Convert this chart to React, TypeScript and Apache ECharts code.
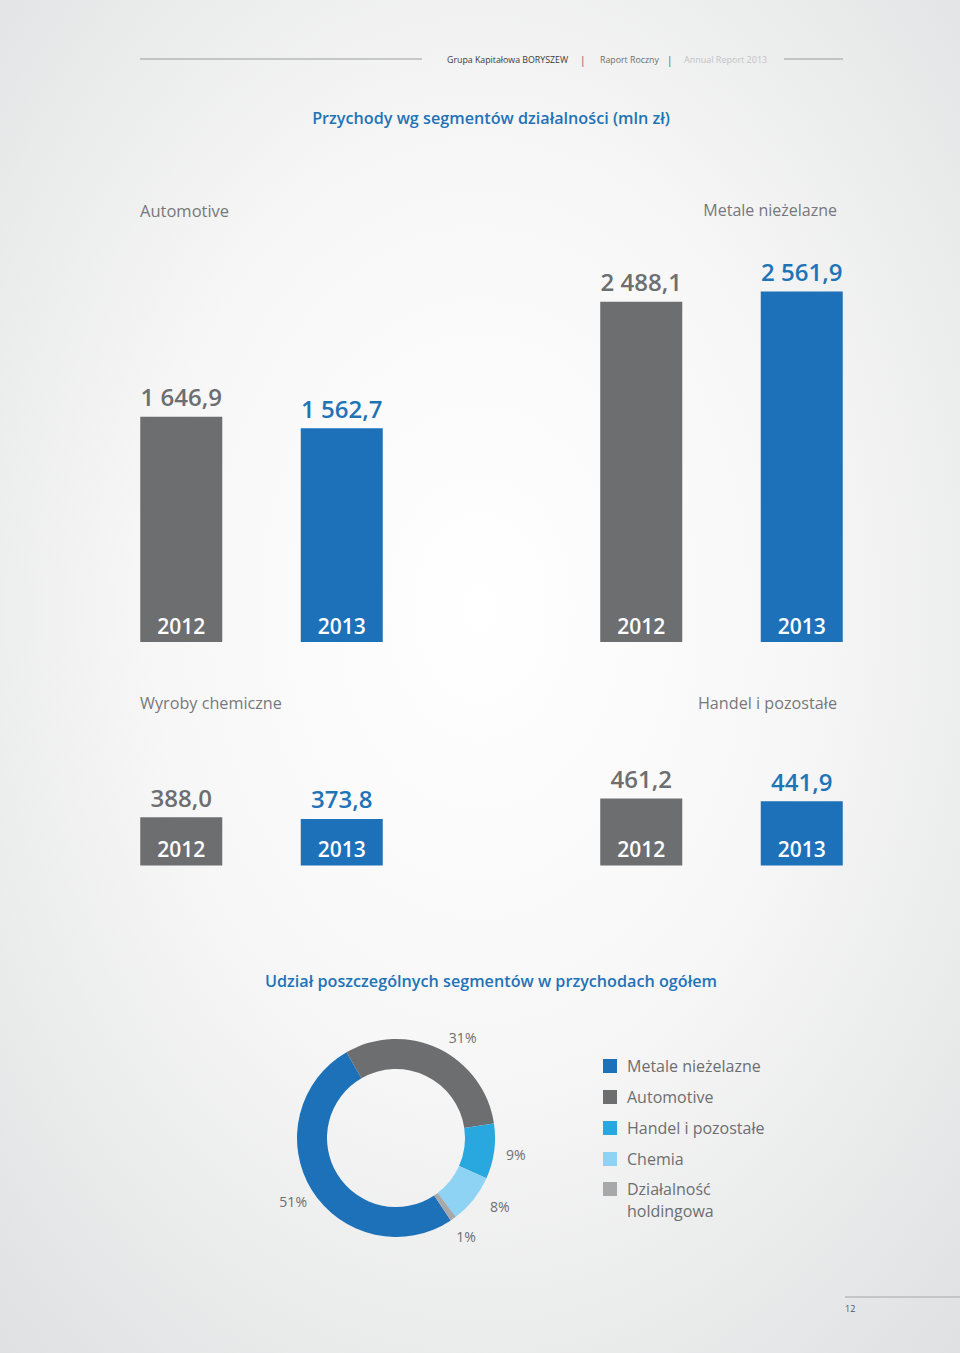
import React, { useEffect, useRef } from "react";
import * as echarts from "echarts";

// ---------- data ----------
const years = ["2012", "2013"];
const automotive = [1646.9, 1562.7];
const metale = [2488.1, 2561.9];
const wyroby = [388.0, 373.8];
const handel = [461.2, 441.9];

const shareNames = [
  "Metale nieżelazne",
  "Automotive",
  "Handel i pozostałe",
  "Chemia",
  "Działalność holdingowa",
];
const shareValues = [51, 31, 9, 8, 1];
const shareColors = ["#1c71b8", "#6d6e70", "#29a7df", "#8ed3f4", "#a6a8aa"];

const yearColors = ["#6d6e70", "#1c71b8"];
const yearLabelColors = ["#6d6e70", "#1f73b7"];

const FONT = "'Open Sans', 'Noto Sans', sans-serif";

const fmt = (v: number) => {
  const [i, d] = v.toFixed(1).split(".");
  return i.replace(/\B(?=(\d{3})+(?!\d))/g, " ") + "," + d;
};

export default function App() {
  const ref = useRef<HTMLDivElement>(null);

  useEffect(() => {
    if (!ref.current) return;
    const chart = echarts.init(ref.current, undefined, { renderer: "svg" });

    const panels = [
      { values: automotive, left: 101, top: 231.6, height: 410.4 },
      { values: metale, left: 561, top: 231.6, height: 410.4 },
      { values: wyroby, left: 101, top: 492, height: 373.5 },
      { values: handel, left: 561, top: 429, height: 436.5 },
    ];

    const grids = panels.map((p) => ({
      left: p.left,
      top: p.top,
      width: 321,
      height: p.height,
    }));

    const xAxes = panels.map((_, i) => ({
      type: "category",
      gridIndex: i,
      data: years,
      z: 10,
      axisLine: { show: false },
      axisTick: { show: false },
      splitLine: { show: false },
      axisLabel: {
        inside: true,
        margin: 6,
        color: "#ffffff",
        fontSize: 21,
        fontWeight: 600,
        fontFamily: FONT,
      },
    }));

    const yAxes = panels.map((_, i) => ({
      type: "value",
      gridIndex: i,
      min: 0,
      max: 3000,
      show: false,
      splitLine: { show: false },
    }));

    const barSeries = panels.map((p, i) => ({
      type: "bar",
      xAxisIndex: i,
      yAxisIndex: i,
      barWidth: 82,
      silent: true,
      data: p.values.map((v, j) => ({
        value: v,
        itemStyle: { color: yearColors[j] },
        label: {
          show: true,
          position: "top",
          distance: 8,
          color: yearLabelColors[j],
          fontSize: 24,
          fontWeight: 600,
          fontFamily: FONT,
          formatter: (prm: any) => fmt(prm.value),
        },
      })),
    }));

    const pieData = shareNames.map((n, i) => ({
      name: n,
      value: shareValues[i],
      itemStyle: { color: shareColors[i] },
    }));

    // small manual nudges of two percentage labels, as in the original layout
    const labelNudge: Record<string, number[]> = {
      Automotive: [14, 8],
      Chemia: [9, -7],
    };

    const txt = (
      text: string,
      x: number,
      y: number,
      size: number,
      color: string,
      extra: any = {}
    ) => ({
      type: "text",
      x,
      y,
      silent: true,
      style: {
        text,
        fill: color,
        fontSize: size,
        fontFamily: FONT,
        verticalAlign: "middle",
        align: "left",
        ...extra,
      },
    });

    const legendCommon = {
      orient: "vertical",
      padding: 0,
      itemWidth: 14,
      itemHeight: 14,
      itemGap: 15,
      icon: "rect",
      selectedMode: false,
      textStyle: {
        fontSize: 16,
        color: "#6d6e70",
        fontFamily: FONT,
        padding: [0, 0, 0, 5],
      },
    };

    const lastName = shareNames[shareNames.length - 1];

    const option: any = {
      animation: false,
      backgroundColor: new echarts.graphic.RadialGradient(0.5, 0.45, 0.75, [
        { offset: 0, color: "#ffffff" },
        { offset: 0.45, color: "#f7f7f7" },
        { offset: 1, color: "#dfe0e1" },
      ]),
      grid: grids,
      xAxis: xAxes,
      yAxis: yAxes,
      legend: [
        {
          ...legendCommon,
          left: 603,
          top: 1058,
          data: shareNames.slice(0, -1).map((n, i) => ({
            name: n,
            itemStyle: { color: shareColors[i] },
          })),
        },
        {
          ...legendCommon,
          left: 603,
          top: 1156,
          textStyle: { ...legendCommon.textStyle, lineHeight: 22 },
          formatter: () => "\nDziałalność\nholdingowa",
          data: [
            {
              name: lastName,
              itemStyle: { color: shareColors[shareNames.length - 1] },
            },
          ],
        },
      ],
      series: [
        ...barSeries,
        {
          type: "pie",
          center: [396, 1138],
          radius: [69, 99],
          startAngle: 303.6,
          clockwise: true,
          silent: true,
          label: { show: false },
          labelLine: { show: false },
          itemStyle: { borderWidth: 0 },
          emphasis: { disabled: true },
          data: pieData,
        },
        {
          type: "pie",
          center: [396, 1138],
          radius: [117, 119],
          startAngle: 303.6,
          clockwise: true,
          silent: true,
          itemStyle: { color: "rgba(0,0,0,0)", borderWidth: 0 },
          emphasis: { disabled: true },
          labelLine: { show: false },
          label: {
            show: true,
            position: "inside",
            formatter: "{c}%",
            color: "#6d6e70",
            fontSize: 14,
            fontFamily: FONT,
          },
          data: shareNames.map((n, i) => ({
            name: n,
            value: shareValues[i],
            itemStyle: { color: "rgba(0,0,0,0)" },
            label: labelNudge[n] ? { offset: labelNudge[n] } : undefined,
          })),
        },
      ],
      graphic: [
        {
          type: "line",
          silent: true,
          shape: { x1: 140, y1: 59, x2: 422, y2: 59 },
          style: { stroke: "#9a9b9c", lineWidth: 1 },
        },
        {
          type: "line",
          silent: true,
          shape: { x1: 784, y1: 59, x2: 843, y2: 59 },
          style: { stroke: "#9a9b9c", lineWidth: 1 },
        },
        txt("Grupa Kapitałowa BORYSZEW", 447, 59.5, 8.8, "#3a3a3a"),
        txt("|", 580, 59.5, 10, "#555555"),
        txt("Raport Roczny", 600, 59.5, 8.8, "#6d6e70"),
        txt("|", 667, 59.5, 10, "#555555"),
        txt("Annual Report 2013", 684, 59.5, 9, "#c3c4c5"),
        txt(
          "Przychody wg segmentów działalności (mln zł)",
          491,
          118,
          16.2,
          "#1f73b7",
          { align: "center", fontWeight: 600 }
        ),
        txt("Automotive", 140, 210, 16.5, "#77787b"),
        txt("Metale nieżelazne", 837, 210, 16, "#77787b", { align: "right" }),
        txt("Wyroby chemiczne", 140, 703, 16.2, "#77787b"),
        txt("Handel i pozostałe", 837, 703, 16.2, "#77787b", { align: "right" }),
        txt(
          "Udział poszczególnych segmentów w przychodach ogółem",
          491,
          981,
          16.2,
          "#1f73b7",
          { align: "center", fontWeight: 600 }
        ),
        {
          type: "line",
          silent: true,
          shape: { x1: 845, y1: 1297, x2: 960, y2: 1297 },
          style: { stroke: "#c4c5c6", lineWidth: 2 },
        },
        txt("12", 845, 1308, 9, "#555555"),
      ],
    };

    chart.setOption(option);
    return () => chart.dispose();
  }, []);

  return (
    <div
      ref={ref}
      style={{ position: "absolute", left: 0, top: 0, width: 960, height: 1353 }}
    />
  );
}
